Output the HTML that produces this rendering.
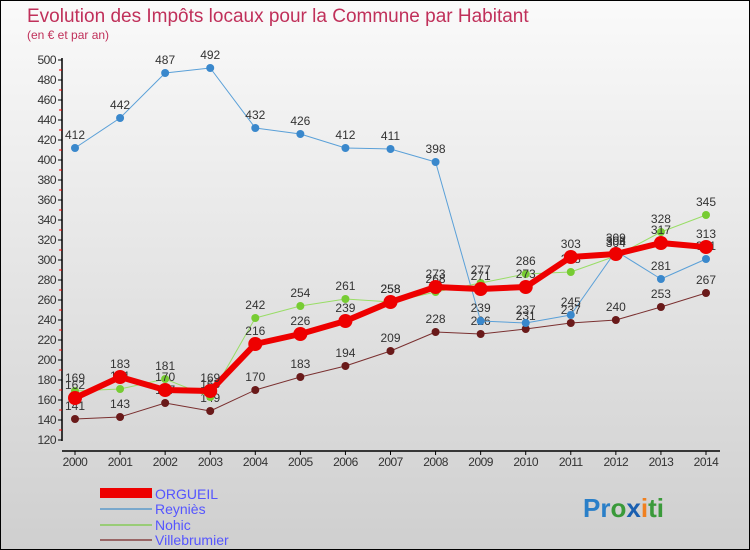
<!DOCTYPE html>
<html><head><meta charset="utf-8"><style>
body{margin:0;width:750px;height:550px;overflow:hidden;font-family:"Liberation Sans",sans-serif}
#wrap{position:absolute;left:0;top:0;width:748px;height:548px;border:1px solid #000;background:linear-gradient(#fafafa,#cfcfcf)}
svg{position:absolute;left:0;top:0}
</style></head><body>
<div id="wrap"></div>
<svg id="c" width="750" height="550">
<text x="27" y="22" font-size="19" fill="#c0305a">Evolution des Impôts locaux pour la Commune par Habitant</text>
<text x="27" y="39" font-size="12" fill="#c0305a">(en € et par an)</text>
<g id="axes"></g><g id="series"></g>
<g>
<rect x="100" y="488" width="52" height="10" fill="#e00"/>
<text x="155" y="499" font-size="14" fill="#55f">ORGUEIL</text>
<rect x="100" y="508" width="52" height="2" fill="#7aa8cc"/>
<text x="155" y="514" font-size="14" fill="#55f">Reyniès</text>
<rect x="100" y="524" width="52" height="2" fill="#99cc77"/>
<text x="155" y="530" font-size="14" fill="#55f">Nohic</text>
<rect x="100" y="539" width="52" height="2" fill="#996666"/>
<text x="155" y="545" font-size="14" fill="#55f">Villebrumier</text>
</g>
<text x="583" y="517" font-size="26" font-weight="bold"><tspan fill="#2a7fc8">Pr</tspan><tspan fill="#3a9a3a">o</tspan><tspan fill="#1a5fb0">x</tspan><tspan fill="#f08020">i</tspan><tspan fill="#3a9a3a">ti</tspan></text>
</svg>
<script>
const years=[2000,2001,2002,2003,2004,2005,2006,2007,2008,2009,2010,2011,2012,2013,2014];
const orgueil=[162,183,170,169,216,226,239,258,273,271,273,303,306,317,313];
const reynies=[412,442,487,492,432,426,412,411,398,239,237,245,309,281,301];
const nohic=[169,171,181,163,242,254,261,258,268,277,286,288,304,328,345];
const villebrumier=[141,143,157,149,170,183,194,209,228,226,231,237,240,253,267];
const yTicks=[120,140,160,180,200,220,240,260,280,300,320,340,360,380,400,420,440,460,480,500];
const NS="http://www.w3.org/2000/svg";
const X=i=>75+i*(706-75)/(years.length-1);
const Y=v=>440-(v-120);
function mk(t,a,p){const e=document.createElementNS(NS,t);for(const k in a)e.setAttribute(k,a[k]);p.appendChild(e);return e;}
const ax=document.getElementById('axes');
let l=mk('line',{x1:62,y1:58,x2:62,y2:441,stroke:'#000','stroke-width':1.5},ax);


l=mk('line',{x1:62,y1:451,x2:720,y2:451,stroke:'#000','stroke-width':1.5},ax);


yTicks.forEach(v=>{
 mk('line',{x1:58,x2:62,y1:Y(v),y2:Y(v),stroke:'#000'},ax);
 if(v>120) mk('line',{x1:59,x2:62,y1:Y(v)+10,y2:Y(v)+10,stroke:'#e00'},ax);
 const t=mk('text',{x:56,y:Y(v)+4,'font-size':12,'text-anchor':'end',fill:'#333','letter-spacing':'-0.5'},ax);
 t.textContent=v;
 
 
});
years.forEach((y,i)=>{
 mk('line',{x1:X(i),x2:X(i),y1:451,y2:455,stroke:'#000'},ax);
 const t=mk('text',{x:X(i),y:466,'font-size':12,'text-anchor':'middle',fill:'#333','letter-spacing':'-0.5'},ax);
 t.textContent=y;
 
 
});
const sg=document.getElementById('series');
function draw(vals,name,color,w,r,dot){
 const g=mk('g',{},sg);
 
 
 const p=mk('polyline',{points:vals.map((v,i)=>X(i)+','+Y(v)).join(' '),fill:'none',stroke:color,'stroke-width':w,'stroke-linejoin':'round'},g);
 
 
 vals.forEach((v,i)=>{
  const c=mk('circle',{cx:X(i),cy:Y(v),r:r,fill:dot},g);
  
  
  const t=mk('text',{x:X(i),y:Y(v)-9,'font-size':12,'text-anchor':'middle',fill:'#333'},g);
  t.textContent=v;
  
  
 });
}
draw(villebrumier,'villebrumier','#7a3030',1,4,'#6a1a1a');
draw(reynies,'reynies','#5aa0d8',1,4,'#3a88cc');
draw(nohic,'nohic','#99dd66',1,4,'#77cc33');
draw(orgueil,'orgueil','#ee0000',6,7,'#ee0000');
</script>
</body></html>
